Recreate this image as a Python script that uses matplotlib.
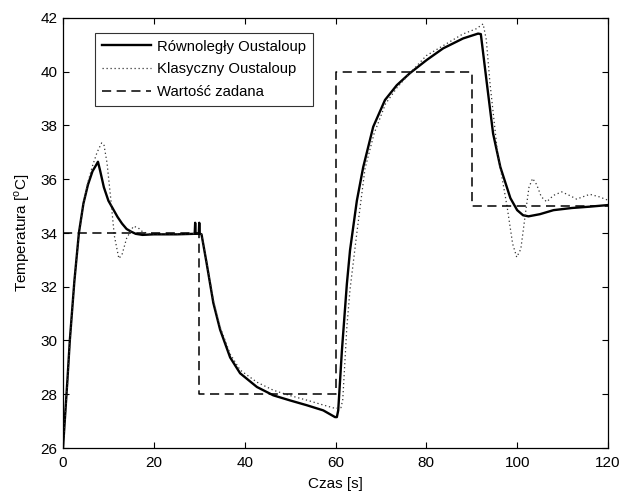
import matplotlib
matplotlib.use("Agg")
import matplotlib.pyplot as plt

plt.rcParams['font.family'] = ['Liberation Sans', 'DejaVu Sans']
plt.rcParams['mathtext.fontset'] = 'custom'
plt.rcParams['mathtext.rm'] = 'Liberation Sans'

# Równoległy Oustaloup (solid)
t_par = [0, 0.5, 1, 1.5, 2.5, 3.5, 4.5, 5.5, 6.5, 7.2, 7.7, 8.2, 9, 10, 11, 12, 13, 14, 15, 16,
         17.5, 20, 25, 29.0, 29.1, 29.2, 29.9, 30.0, 30.1, 30.5, 31.6, 33.1, 34.6, 36.8, 39, 42.7,
         46.3, 50, 53.7, 57.3, 59.9, 60.3, 60.6, 61.4, 62.5, 63.2, 64.7, 66.1, 68.3, 70.9, 73.5,
         76.4, 80.1, 83.7, 88.1, 91.4, 92.0, 93.3, 94.7, 96.3, 98.5, 100, 101.3, 102.5, 105, 108,
         112, 116, 120]
y_par = [26, 27.3, 28.6, 30.0, 32.2, 34.0, 35.1, 35.8, 36.3, 36.5, 36.65, 36.3, 35.7, 35.2, 34.9,
         34.6, 34.35, 34.15, 34.05, 33.97, 33.93, 33.95, 33.95, 33.97, 34.38, 33.97, 33.97, 34.38,
         33.98, 33.95, 32.9, 31.4, 30.4, 29.37, 28.78, 28.27, 27.96, 27.77, 27.59, 27.4, 27.15,
         27.15, 27.4, 29.6, 32.1, 33.36, 35.2, 36.45, 37.95, 38.95, 39.5, 39.95, 40.44, 40.87,
         41.24, 41.42, 41.4, 39.6, 37.7, 36.45, 35.3, 34.85, 34.66, 34.62, 34.7, 34.85, 34.93,
         34.98, 35.04]

# Klasyczny Oustaloup (dotted)
t_kla = [0, 1, 1.5, 2.5, 3.5, 4.5, 5.5, 6.5, 7.5, 8.5, 9, 9.7, 10.5, 11.3, 12.3, 13, 14, 15.5,
         16.5, 17.5, 19, 25, 29.5, 30.5, 31.6, 33.1, 34.6, 36.8, 39, 42.7, 46.3, 50, 53.7, 57.3,
         60, 61.2, 61.6, 62.5, 63.2, 64.7, 66.5, 68.5, 71, 73.5, 76.4, 80, 84, 88, 91, 92.5, 93.2,
         94, 95.6, 97.8, 99, 99.9, 100.8, 101.8, 102.6, 103.4, 104.3, 105.3, 106.5, 108, 109.8,
         111.5, 113.1, 114.5, 116, 118, 120]
y_kla = [26, 28.4, 29.9, 32.2, 33.9, 35.1, 35.9, 36.5, 37.0, 37.35, 37.3, 36.6, 35.3, 33.9, 33.05,
         33.2, 33.8, 34.25, 34.2, 34.05, 33.97, 33.97, 33.98, 33.95, 32.95, 31.5, 30.5, 29.5,
         28.9, 28.45, 28.15, 27.95, 27.78, 27.6, 27.47, 27.5, 27.8, 30.5, 31.9, 34.0, 36.4, 37.7,
         38.8, 39.4, 39.95, 40.6, 41.0, 41.4, 41.6, 41.78, 41.2, 39.6, 37.1, 34.96, 33.6, 33.1,
         33.4, 34.7, 35.7, 36.03, 35.8, 35.35, 35.16, 35.4, 35.53, 35.4, 35.26, 35.35, 35.44,
         35.35, 35.22]

# Wartość zadana (dashed step)
t_set = [0, 30, 30, 60, 60, 90, 90, 120]
y_set = [34, 34, 28, 28, 40, 40, 35, 35]

fig = plt.figure(figsize=(6.23, 4.94), dpi=100)
ax = fig.add_axes([63 / 623, 46 / 494, 545 / 623, 430 / 494])

ax.plot(t_par, y_par, color='black', lw=1.7, label='Równoległy Oustaloup')
ax.plot(t_kla, y_kla, color='#333333', lw=0.9, linestyle=(0, (1, 2.2)), label='Klasyczny Oustaloup')
ax.plot(t_set, y_set, color='black', lw=1.1, dashes=(6, 3.6), label='Wartość zadana')

ax.set_xlim(0, 120)
ax.set_ylim(26, 42)
ax.set_xticks(range(0, 121, 20))
ax.set_yticks(range(26, 43, 2))
ax.tick_params(direction='in', top=True, right=True, length=4, labelsize=11)
ax.tick_params(axis='x', pad=6)
ax.tick_params(axis='y', pad=4)
for s in ax.spines.values():
    s.set_linewidth(0.9)

ax.set_xlabel('Czas [s]', fontsize=11, labelpad=5)
ax.set_ylabel('Temperatura [$^\\mathregular{o}$C]', fontsize=11, labelpad=6)

leg = ax.legend(loc='upper left', bbox_to_anchor=(32 / 545, 415 / 430), borderaxespad=0,
                fontsize=10.7, frameon=True, fancybox=False, handlelength=3.3,
                labelspacing=0.58, borderpad=0.45, handletextpad=0.45)
leg.get_frame().set_edgecolor('black')
leg.get_frame().set_linewidth(0.8)

fig.savefig('out.png', dpi=100)
